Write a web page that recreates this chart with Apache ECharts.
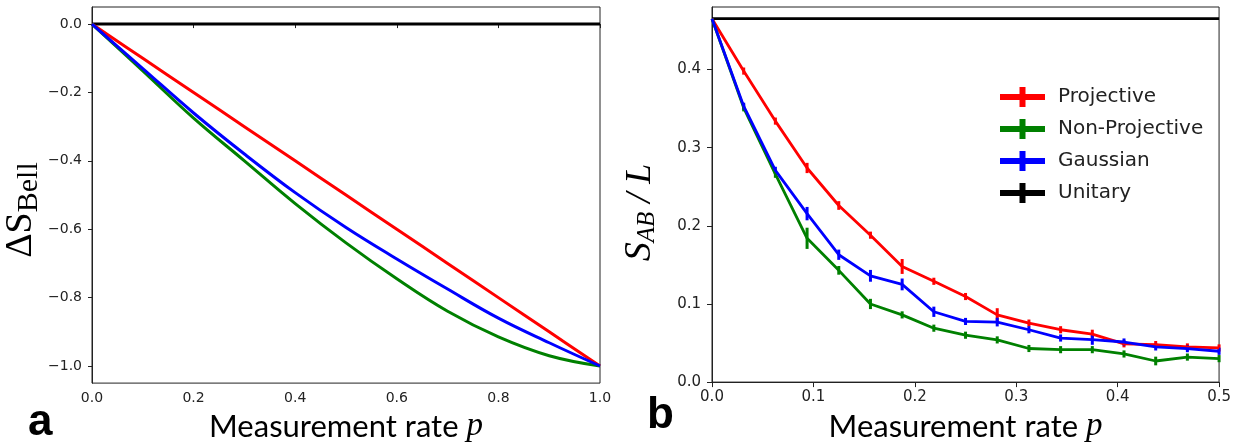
<!DOCTYPE html>
<html>
<head>
<meta charset="utf-8">
<script src="https://cdn.jsdelivr.net/npm/echarts@6/dist/echarts.min.js"></script>
<style>
  html, body { margin: 0; padding: 0; background: #fff; }
  #chart { width: 1234px; height: 448px; }
</style>
</head>
<body>
<div id="chart"></div>
<script>
// panel a: Bell entropy change vs measurement rate
const pA = [0, 0.1, 0.2, 0.3, 0.4, 0.5, 0.6, 0.7, 0.8, 0.9, 1.0];
const projA = [0, -0.1, -0.2, -0.3, -0.4, -0.5, -0.6, -0.7, -0.8, -0.9, -1.0];
const nonProjA = [0, -0.137, -0.275, -0.40, -0.525, -0.64, -0.745, -0.84, -0.915, -0.97, -1.0];
const gaussA = [0, -0.13, -0.26, -0.38, -0.493, -0.595, -0.687, -0.775, -0.86, -0.932, -1.0];
const unitaryA = [0, 0];
const xTicksA = [0, 0.2, 0.4, 0.6, 0.8, 1.0];
const yTicksA = [-1.0, -0.8, -0.6, -0.4, -0.2, 0.0];

// panel b: S_AB / L vs measurement rate
const pB = [0, 0.03125, 0.0625, 0.09375, 0.125, 0.15625, 0.1875, 0.21875, 0.25,
            0.28125, 0.3125, 0.34375, 0.375, 0.40625, 0.4375, 0.46875, 0.5];
const projB = [0.465, 0.398, 0.334, 0.274, 0.226, 0.188, 0.148, 0.129, 0.1095,
               0.086, 0.0755, 0.067, 0.0615, 0.049, 0.048, 0.045, 0.0437];
const nonProjB = [0.465, 0.351, 0.266, 0.184, 0.143, 0.100, 0.086, 0.069, 0.060,
                  0.054, 0.043, 0.0415, 0.0415, 0.036, 0.027, 0.032, 0.030];
const gaussB = [0.465, 0.353, 0.271, 0.2156, 0.163, 0.136, 0.125, 0.090, 0.0776,
                0.0768, 0.067, 0.0564, 0.0543, 0.0513, 0.045, 0.0428, 0.0395];
const projErr = [0, 0.002, 0.002, 0.004, 0.003, 0.002, 0.007, 0.002, 0.002,
                 0.006, 0.002, 0.002, 0.003, 0.002, 0.002, 0.002, 0.002];
const nonProjErr = [0, 0.002, 0.002, 0.011, 0.003, 0.004, 0.002, 0.002, 0.002,
                    0.002, 0.002, 0.002, 0.002, 0.002, 0.003, 0.002, 0.002];
const gaussErr = [0, 0.002, 0.002, 0.006, 0.004, 0.005, 0.005, 0.004, 0.002,
                  0.003, 0.002, 0.002, 0.004, 0.002, 0.002, 0.002, 0.002];
const unitaryB = 0.465;
const xTicksB = [0, 0.1, 0.2, 0.3, 0.4, 0.5];
const yTicksB = [0, 0.1, 0.2, 0.3, 0.4];

const RED = '#ff0000', GREEN = '#008000', BLUE = '#0000ff', BLACK = '#000000';

const chart = echarts.init(document.getElementById('chart'));

function pairs(xs, ys) {
    return xs.map((x, i) => [x, ys[i]]);
}

function tickFmt(v) {
    const s = v.toFixed(1);
    return s.replace('-', '\u2212');
}

function errBars(name, color, ys, errs) {
    return {
        name: name,
        type: 'custom',
        xAxisIndex: 1,
        yAxisIndex: 1,
        z: 3,
        data: pB.map((x, i) => [x, ys[i], errs[i]]),
        renderItem: function (params, api) {
            const x = api.value(0), y = api.value(1), e = api.value(2);
            if (e <= 0) return null;
            const top = api.coord([x, y + e]);
            const bot = api.coord([x, y - e]);
            return {
                type: 'line',
                shape: { x1: top[0], y1: top[1] - 2, x2: bot[0], y2: bot[1] + 2 },
                style: { stroke: color, lineWidth: 3 }
            };
        }
    };
}

function lineA(data, color, w) {
    return {
        type: 'line',
        xAxisIndex: 0,
        yAxisIndex: 0,
        data: data,
        smooth: 0.4,
        showSymbol: false,
        lineStyle: { color: color, width: w },
        itemStyle: { color: color },
        silent: true
    };
}

function lineB(name, data, color) {
    return {
        name: name,
        type: 'line',
        xAxisIndex: 1,
        yAxisIndex: 1,
        data: data,
        showSymbol: false,
        lineStyle: { color: color, width: 2.8 },
        itemStyle: { color: color },
        color: color,
        silent: true
    };
}

const tickLabel = { fontFamily: 'DejaVu Sans', color: '#222' };

const xName = {
    name: '{m|Measurement rate }{p|p}',
    nameLocation: 'middle',
    nameGap: 22,
    nameTextStyle: {
        rich: {
            m: { fontFamily: 'Lato', fontSize: 31, color: '#000' },
            p: { fontFamily: 'Liberation Serif', fontStyle: 'italic', fontSize: 33, color: '#000' }
        }
    }
};

const option = {
    animation: false,
    backgroundColor: '#fff',
    grid: [
        { left: 92, top: 7, width: 508, height: 377, show: true, borderColor: '#222', borderWidth: 1 },
        { left: 712, top: 7, width: 509, height: 377, show: true, borderColor: '#222', borderWidth: 1 }
    ],
    legend: {
        data: ['Projective', 'Non-Projective', 'Gaussian', 'Unitary'],
        orient: 'vertical',
        left: 1000,
        top: 87,
        padding: 0,
        itemWidth: 45,
        itemHeight: 20,
        itemGap: 12,
        icon: 'path://M0,7H45V13H0Z M19.5,0H25.5V20H19.5Z',
        textStyle: { fontFamily: 'DejaVu Sans', fontSize: 20, color: '#222', padding: [0, 0, 0, 8] },
        selectedMode: false
    },
    xAxis: [
        Object.assign({
            type: 'value', gridIndex: 0, min: 0, max: 1,
            splitLine: { show: false },
            axisLine: { lineStyle: { color: '#222' } },
            axisTick: { show: true, length: 4, customValues: xTicksA, lineStyle: { color: '#222' } },
            axisLabel: { ...tickLabel, fontSize: 14, margin: 8, customValues: xTicksA, formatter: tickFmt }
        }, xName),
        Object.assign({
            type: 'value', gridIndex: 1, min: 0, max: 0.5,
            splitLine: { show: false },
            axisLine: { lineStyle: { color: '#222' } },
            axisTick: { show: true, length: 5, customValues: xTicksB, lineStyle: { color: '#222' } },
            axisLabel: { ...tickLabel, fontSize: 15, margin: 8, customValues: xTicksB, formatter: tickFmt }
        }, xName)
    ],
    yAxis: [
        {
            type: 'value', gridIndex: 0, min: -1.05, max: 0.05,
            splitLine: { show: false },
            axisLine: { show: true, lineStyle: { color: '#222' } },
            axisTick: { show: true, length: 4, customValues: yTicksA, lineStyle: { color: '#222' } },
            axisLabel: { ...tickLabel, fontSize: 14, margin: 10, customValues: yTicksA, formatter: tickFmt },
            name: '{d|\u0394S}{s|Bell}',
            nameLocation: 'middle',
            nameRotate: 90,
            nameGap: 48,
            nameTextStyle: {
                padding: [0, 30, 0, 0],
                rich: {
                    d: { fontFamily: 'Liberation Serif', fontSize: 38, color: '#000' },
                    s: { fontFamily: 'Liberation Serif', fontSize: 30, color: '#000', padding: [16, 0, 0, 0] }
                }
            }
        },
        {
            type: 'value', gridIndex: 1, min: 0, max: 0.48,
            splitLine: { show: false },
            axisLine: { show: true, lineStyle: { color: '#222' } },
            axisTick: { show: true, length: 5, customValues: yTicksB, lineStyle: { color: '#222' } },
            axisLabel: { ...tickLabel, fontSize: 15, margin: 11, customValues: yTicksB, formatter: tickFmt },
            name: '{s|S}{ab|AB}{l| / L}',
            nameLocation: 'middle',
            nameRotate: 90,
            nameGap: 52,
            nameTextStyle: {
                padding: [0, 36, 0, 0],
                rich: {
                    s: { fontFamily: 'Liberation Serif', fontStyle: 'italic', fontSize: 38, color: '#000' },
                    ab: { fontFamily: 'Liberation Serif', fontStyle: 'italic', fontSize: 25, color: '#000', padding: [14, 0, 0, 0] },
                    l: { fontFamily: 'Liberation Serif', fontStyle: 'italic', fontSize: 36, color: '#000' }
                }
            }
        }
    ],
    graphic: [
        { type: 'text', left: 28, top: 401, style: { text: 'a', font: 'bold 44px "Liberation Sans"', fill: '#000' } },
        { type: 'text', left: 647, top: 394, style: { text: 'b', font: 'bold 44px "Liberation Sans"', fill: '#000' } }
    ],
    series: [
        {
            type: 'line', xAxisIndex: 0, yAxisIndex: 0,
            data: [[0, unitaryA[0]], [1, unitaryA[1]]],
            showSymbol: false, lineStyle: { color: BLACK, width: 3 }, silent: true
        },
        lineA(pairs(pA, projA), RED, 3),
        lineA(pairs(pA, nonProjA), GREEN, 3),
        lineA(pairs(pA, gaussA), BLUE, 3),

        lineB('Unitary', [[0, unitaryB], [0.5, unitaryB]], BLACK),
        lineB('Projective', pairs(pB, projB), RED),
        lineB('Non-Projective', pairs(pB, nonProjB), GREEN),
        lineB('Gaussian', pairs(pB, gaussB), BLUE),
        errBars('Projective', RED, projB, projErr),
        errBars('Non-Projective', GREEN, nonProjB, nonProjErr),
        errBars('Gaussian', BLUE, gaussB, gaussErr)
    ]
};

chart.setOption(option);
</script>
</body>
</html>
